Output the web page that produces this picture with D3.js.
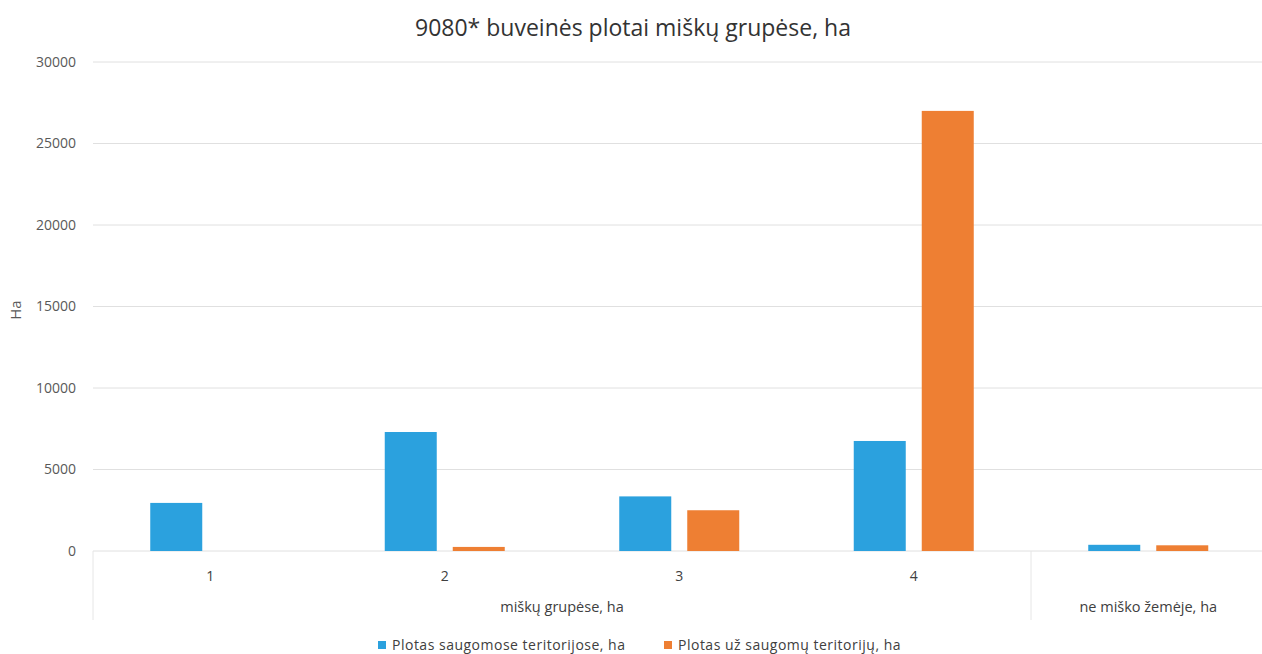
<!DOCTYPE html>
<html><head><meta charset="utf-8">
<script src="https://cdn.jsdelivr.net/npm/d3@7"></script>
<style>body{margin:0;background:#fff}svg{display:block}text{font-family:"Open Sans","Noto Sans",sans-serif}</style>
</head><body>
<svg id="c" width="1262" height="654"></svg>
<script>
const title = "9080* buveinės plotai miškų grupėse, ha";
const categories = ["1","2","3","4","ne"];
const categoryLabels = ["1","2","3","4",""];
const groups = [{label:"miškų grupėse, ha", from:0, to:3},{label:"ne miško žemėje, ha", from:4, to:4}];
const seriesNames = ["Plotas saugomose teritorijose, ha","Plotas už saugomų teritorijų, ha"];
const seriesColors = ["#2ba1de","#ee7f33"];
const protectedVals = [2950, 7300, 3350, 6750, 380];
const outsideVals = [0, 250, 2500, 27000, 350];
const yTicks = [0,5000,10000,15000,20000,25000,30000];
const yLabel = "Ha";

const svg = d3.select("#c");
const L = 93, R = 1265.5, T = 62, B = 551;
const x0 = d3.scaleBand().domain(categories).range([L,R]).padding(0);
const groupW = 120;
const x1 = d3.scaleBand().domain([0,1]).range([0,groupW]).paddingInner(0.2353).paddingOuter(0);
const y = d3.scaleLinear().domain([0,30000]).range([B,T]);

// gridlines
svg.append("g").selectAll("line").data(yTicks).join("line")
  .attr("x1",L).attr("x2",R).attr("y1",d=>y(d)).attr("y2",d=>y(d))
  .attr("stroke","#e0e0e0").attr("stroke-width",1);

// y axis labels
const yAxis = d3.axisLeft(y).tickValues(yTicks).tickSize(0).tickPadding(0).tickFormat(d3.format("d"));
const ya = svg.append("g").attr("transform",`translate(76,0)`).call(yAxis);
ya.select(".domain").remove();
ya.attr("font-size",null);
ya.selectAll("text").attr("font-size",14).attr("fill","#595959");

svg.append("text").attr("transform",`translate(21,310) rotate(-90)`).attr("text-anchor","middle")
  .attr("font-size",15).attr("fill","#595959").text(yLabel);

// bars
const data = categories.map((c,i)=>({c, v:[protectedVals[i], outsideVals[i]]}));
const g = svg.append("g");
data.forEach(d=>{
  const gx = x0(d.c) + (x0.bandwidth()-groupW)/2;
  d.v.forEach((v,s)=>{
    if (v<=0) return;
    g.append("rect").attr("x",gx+x1(s)).attr("width",x1.bandwidth())
      .attr("y",y(v)).attr("height",y(0)-y(v)).attr("fill",seriesColors[s]);
  });
});

// category axis
const xAxis = d3.axisBottom(x0).tickSize(0).tickPadding(0).tickFormat((d,i)=>categoryLabels[i]);
const xa = svg.append("g").attr("transform",`translate(0,${B+20})`).call(xAxis);
xa.select(".domain").remove();
xa.attr("font-size",null);
xa.selectAll("text").attr("font-size",14).attr("fill","#404040");

// separators
const seps = [L, x0(categories[4]), R-1];
svg.append("g").selectAll("line").data(seps).join("line")
  .attr("x1",d=>d).attr("x2",d=>d).attr("y1",B).attr("y2",620)
  .attr("stroke","#e6e6e6").attr("stroke-width",1);

// group labels
groups.forEach(gr=>{
  const a = x0(categories[gr.from]), b = x0(categories[gr.to]) + x0.bandwidth();
  svg.append("text").attr("x",(a+b)/2).attr("y",612).attr("text-anchor","middle")
    .attr("font-size",14.5).attr("fill","#404040").text(gr.label);
});

// title
svg.append("text").attr("x",633).attr("y",36).attr("text-anchor","middle")
  .attr("font-size",23).attr("fill","#333").text(title);

// legend
const legX = [378, 664];
seriesNames.forEach((n,i)=>{
  svg.append("rect").attr("x",legX[i]).attr("y",641).attr("width",8).attr("height",8).attr("fill",seriesColors[i]);
  svg.append("text").attr("x",legX[i]+14).attr("y",650).attr("font-size",14).attr("letter-spacing",0.5)
    .attr("fill","#404040").text(n);
});
</script>
</body></html>
